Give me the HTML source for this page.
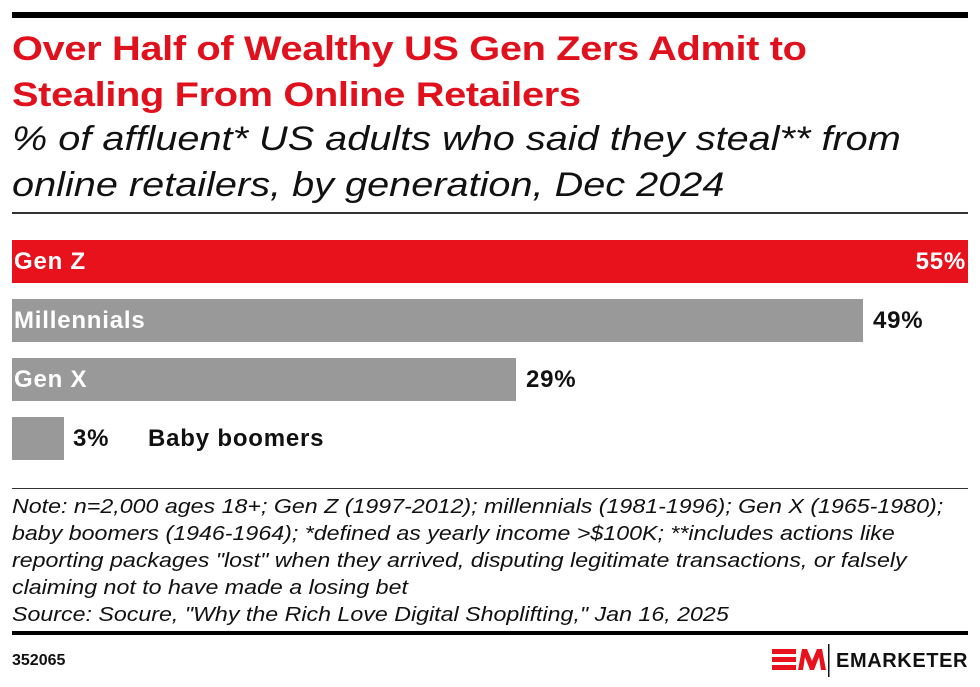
<!DOCTYPE html><html><head><style>
body{margin:0;width:980px;height:687px;background:#fff;font-family:"Liberation Sans",sans-serif;position:relative;overflow:hidden}
.a{position:absolute;white-space:nowrap}
.bar{position:absolute;left:12px;height:43px}
.lab{position:absolute;font-weight:bold;font-size:24px;line-height:43px;letter-spacing:0.8px}
.sx{transform-origin:0 0}
</style></head><body>
<div class="a" style="left:12px;top:12px;width:956px;height:6px;background:#000"></div>
<div class="a sx" style="left:12px;top:26px;font-size:34px;font-weight:bold;color:#e0101c;line-height:46px;letter-spacing:-0.3px;transform:scaleX(1.17)">Over Half of Wealthy US Gen Zers Admit to<br>Stealing From Online Retailers</div>
<div class="a sx" style="left:12px;top:116px;font-size:34px;font-style:italic;color:#111;line-height:46px;transform:scaleX(1.167)">% of affluent* US adults who said they steal** from<br>online retailers, by generation, Dec 2024</div>
<div class="a" style="left:12px;top:212px;width:956px;height:2px;background:#333"></div>
<div class="bar" style="top:240px;width:956px;background:#e8121d"></div>
<div class="lab" style="left:14px;top:240px;color:#fff">Gen Z</div>
<div class="lab" style="right:14px;top:240px;color:#fff">55%</div>
<div class="bar" style="top:299px;width:851px;background:#999"></div>
<div class="lab" style="left:14px;top:299px;color:#fff">Millennials</div>
<div class="lab" style="left:873px;top:299px;color:#111">49%</div>
<div class="bar" style="top:358px;width:504px;background:#999"></div>
<div class="lab" style="left:14px;top:358px;color:#fff">Gen X</div>
<div class="lab" style="left:526px;top:358px;color:#111">29%</div>
<div class="bar" style="top:417px;width:52px;background:#999"></div>
<div class="lab" style="left:73px;top:417px;color:#111">3%</div>
<div class="lab" style="left:148px;top:417px;color:#111">Baby boomers</div>
<div class="a" style="left:12px;top:488px;width:956px;height:1px;background:#333"></div>
<div class="a sx" style="left:12px;top:494px;font-size:20px;font-style:italic;color:#111;line-height:27px;transform:scaleX(1.16)">Note: n=2,000 ages 18+; Gen Z (1997-2012); millennials (1981-1996); Gen X (1965-1980);<br>baby boomers (1946-1964); *defined as yearly income &gt;$100K; **includes actions like<br>reporting packages "lost" when they arrived, disputing legitimate transactions, or falsely<br>claiming not to have made a losing bet<br>Source: Socure, "Why the Rich Love Digital Shoplifting," Jan 16, 2025</div>
<div class="a" style="left:12px;top:631px;width:956px;height:4px;background:#000"></div>
<div class="a" style="left:12px;top:652px;font-size:16px;font-weight:bold;color:#111">352065</div>
<svg class="a" style="left:770px;top:644px" width="60" height="34">
<rect x="2" y="5" width="24" height="5" fill="#e8121d"/><rect x="2" y="13" width="24" height="5" fill="#e8121d"/><rect x="2" y="21" width="24" height="5" fill="#e8121d"/>
<polygon points="28,26 32,5 37,5 42,17 47,5 52,5 56,26 51,26 49,13 44,26 40,26 35,13 33,26" fill="#e8121d"/>
<rect x="58" y="0" width="1.5" height="33" fill="#111"/></svg>
<div class="a" style="left:836px;top:650px;font-size:20px;font-weight:bold;color:#111;letter-spacing:0.6px">EMARKETER</div>
</body></html>
